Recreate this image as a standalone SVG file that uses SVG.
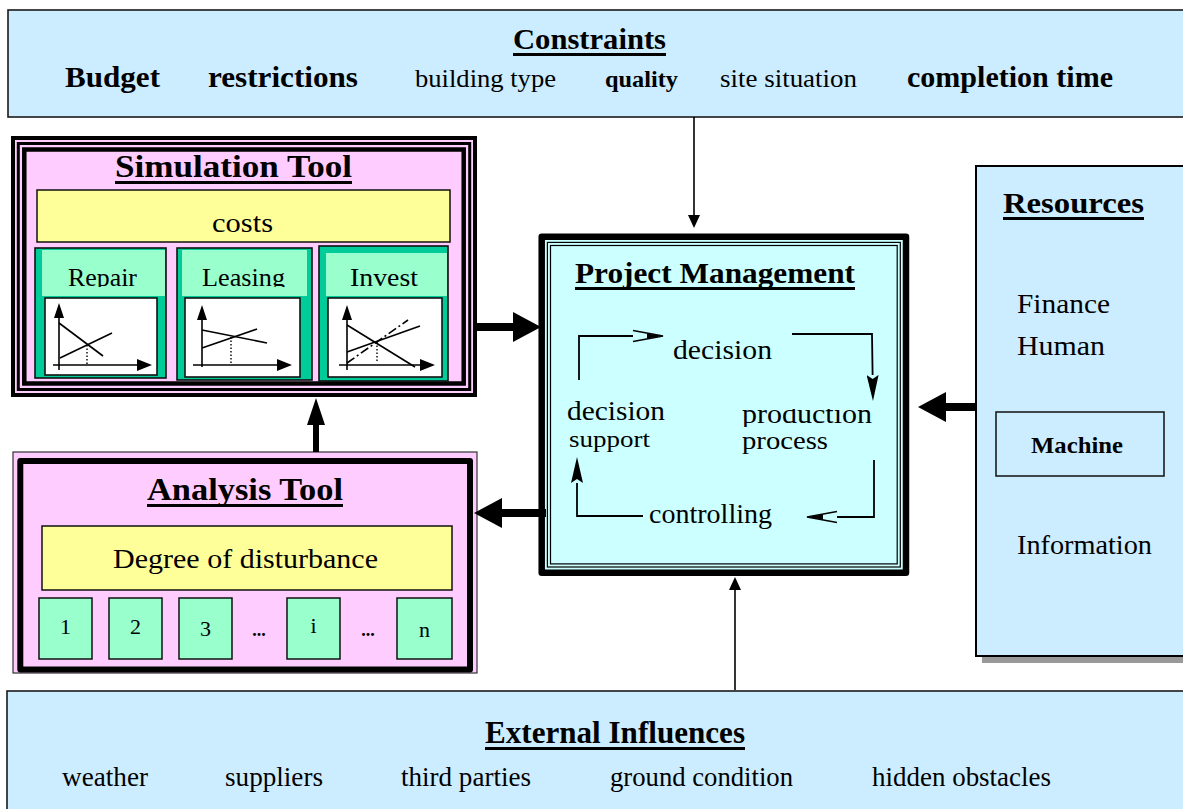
<svg xmlns="http://www.w3.org/2000/svg" width="1183" height="809" viewBox="0 0 1183 809">
  <style>
    text { font-family: "Liberation Serif", "Times New Roman", serif; fill: #000; }
    .b { font-weight: bold; }
    .blue { fill: #CCECFF; stroke: #1a1a1a; stroke-width: 1.6; }
    .pink { fill: #FFCCFF; }
    .yellow { fill: #FFFF99; stroke: #111; stroke-width: 1.5; }
    .mint { fill: #99FFCC; stroke: #111; stroke-width: 1.5; }
    .panel { fill: #00CC99; stroke: #111; stroke-width: 1.6; }
    .band { fill: #99FFCC; }
    .chart { fill: #fff; stroke: #111; stroke-width: 1.6; }
    .plot { stroke: #000; stroke-width: 1.6; fill: none; }
    .dot { stroke: #000; stroke-width: 1.4; stroke-dasharray: 1.5 2; fill: none; }
    .ul { fill: #000; }
    .thick { stroke: #000; fill: none; stroke-linecap: butt; }
    .thin { stroke: #000; stroke-width: 1.6; fill: none; }
    .cyc { stroke: #000; stroke-width: 1.8; fill: none; }
  </style>
  <defs>
    <marker id="bigHead" viewBox="0 0 28 30" refX="0" refY="15" markerWidth="28" markerHeight="30" markerUnits="userSpaceOnUse" orient="auto">
      <path d="M0,0 L28,15 L0,30 Z" fill="#000"/>
    </marker>
    <marker id="midHead" viewBox="0 0 27 18" refX="0" refY="9" markerWidth="27" markerHeight="18" markerUnits="userSpaceOnUse" orient="auto">
      <path d="M0,0 L27,9 L0,18 Z" fill="#000"/>
    </marker>
    <marker id="thinHead" viewBox="0 0 13 12" refX="0" refY="6" markerWidth="13" markerHeight="12" markerUnits="userSpaceOnUse" orient="auto">
      <path d="M0,0 L13,6 L0,12 Z" fill="#000"/>
    </marker>
    <marker id="stealth" viewBox="0 0 26 12" refX="0" refY="6" markerWidth="26" markerHeight="12" markerUnits="userSpaceOnUse" orient="auto">
      <path d="M0,0 L26,6 L0,12 L4,6 Z" fill="#000"/>
    </marker>
    <marker id="chevron" viewBox="-1 -1 32 14" refX="0" refY="6" markerWidth="32" markerHeight="14" markerUnits="userSpaceOnUse" orient="auto">
      <path d="M0,0.5 L30,6 L0,11.5" fill="none" stroke="#000" stroke-width="1.6"/>
      <path d="M14,3.4 L30,6 L14,8.6 Z" fill="#000"/>
    </marker>
    <clipPath id="labelClip"><rect x="30" y="240" width="430" height="47"/></clipPath>
    <clipPath id="prodClip"><rect x="730" y="409" width="160" height="18"/></clipPath>
  </defs>

  <!-- Constraints banner -->
  <g id="constraints">
    <rect class="blue" x="8" y="10" width="1190" height="107"/>
    <text class="b" x="513" y="49" font-size="30" textLength="153" lengthAdjust="spacingAndGlyphs">Constraints</text>
    <rect class="ul" x="513" y="53" width="153" height="3"/>
    <text class="b" x="65" y="87" font-size="30" textLength="95" lengthAdjust="spacingAndGlyphs">Budget</text>
    <text class="b" x="208" y="87" font-size="30" textLength="150" lengthAdjust="spacingAndGlyphs">restrictions</text>
    <text x="415" y="87" font-size="25" textLength="141" lengthAdjust="spacingAndGlyphs">building type</text>
    <text class="b" x="605" y="87" font-size="23" textLength="73" lengthAdjust="spacingAndGlyphs">quality</text>
    <text x="720" y="87" font-size="25" textLength="137" lengthAdjust="spacingAndGlyphs">site situation</text>
    <text class="b" x="907" y="87" font-size="30" textLength="206" lengthAdjust="spacingAndGlyphs">completion time</text>
  </g>

  <!-- Simulation Tool -->
  <g id="simulation-tool">
    <rect class="pink" x="13" y="138" width="462" height="257" stroke="#000" stroke-width="4"/>
    <rect x="18.3" y="143.5" width="451.4" height="246" fill="none" stroke="#000" stroke-width="3"/>
    <rect x="24.3" y="149.5" width="439.4" height="234" fill="none" stroke="#000" stroke-width="4.5"/>
    <text class="b" x="115" y="177" font-size="32" textLength="237" lengthAdjust="spacingAndGlyphs">Simulation Tool</text>
    <rect class="ul" x="115" y="181" width="237" height="3"/>
    <rect class="yellow" x="37" y="190" width="413" height="52"/>
    <text x="212" y="232" font-size="28" textLength="61" lengthAdjust="spacingAndGlyphs">costs</text>

    <!-- Repair panel -->
    <g id="panel-repair">
      <rect class="panel" x="35" y="248" width="131" height="130"/>
      <rect class="band" x="42" y="250" width="123" height="46"/>
      <text clip-path="url(#labelClip)" x="68" y="286" font-size="26" textLength="69" lengthAdjust="spacingAndGlyphs">Repair</text>
      <rect class="chart" x="45" y="298" width="112" height="77"/>
      <line class="plot" x1="59" y1="370" x2="59" y2="318"/>
      <path d="M54,318 L59,303 L64,318 Z"/>
      <line class="plot" x1="53" y1="365" x2="137" y2="365"/>
      <path d="M137,359 L152,365 L137,371 Z"/>
      <line class="plot" x1="59" y1="323" x2="103" y2="356"/>
      <line class="plot" x1="60" y1="358" x2="112" y2="333"/>
      <line class="dot" x1="87" y1="345" x2="87" y2="365"/>
    </g>

    <!-- Leasing panel -->
    <g id="panel-leasing">
      <rect class="panel" x="177" y="248" width="135" height="132"/>
      <rect class="band" x="182" y="250" width="125" height="46"/>
      <text clip-path="url(#labelClip)" x="202" y="286" font-size="26" textLength="83" lengthAdjust="spacingAndGlyphs">Leasing</text>
      <rect class="chart" x="185" y="298" width="115" height="79"/>
      <line class="plot" x1="202" y1="367" x2="202" y2="320"/>
      <path d="M197,320 L202,305 L207,320 Z"/>
      <line class="plot" x1="193" y1="365" x2="277" y2="365"/>
      <path d="M277,359 L292,365 L277,371 Z"/>
      <line class="plot" x1="202" y1="330" x2="267" y2="343"/>
      <line class="plot" x1="202" y1="348" x2="257" y2="329"/>
      <line class="dot" x1="231" y1="337" x2="231" y2="365"/>
    </g>

    <!-- Invest panel -->
    <g id="panel-invest">
      <rect class="panel" x="319" y="246" width="129" height="135"/>
      <rect class="band" x="326" y="253" width="121" height="43"/>
      <text clip-path="url(#labelClip)" x="350" y="286" font-size="26" textLength="68" lengthAdjust="spacingAndGlyphs">Invest</text>
      <rect class="chart" x="328" y="298" width="114" height="79"/>
      <line class="plot" x1="347" y1="370" x2="347" y2="320"/>
      <path d="M342,320 L347,305 L352,320 Z"/>
      <line class="plot" x1="339" y1="365" x2="420" y2="365"/>
      <path d="M420,359 L435,365 L420,371 Z"/>
      <line class="plot" x1="347" y1="325" x2="415" y2="367"/>
      <line class="plot" x1="347" y1="352" x2="420" y2="326"/>
      <line class="plot" x1="347" y1="363" x2="408" y2="320" stroke-dasharray="9 3 2 3"/>
      <line class="dot" x1="377" y1="342" x2="377" y2="363"/>
    </g>
  </g>

  <!-- Analysis Tool -->
  <g id="analysis-tool">
    <rect class="pink" x="13" y="452" width="464" height="221" stroke="#333" stroke-width="1.2"/>
    <rect x="20.3" y="461" width="449.7" height="208.5" fill="none" stroke="#000" stroke-width="6" stroke-linejoin="round"/>
    <text class="b" x="147" y="500" font-size="32" textLength="196" lengthAdjust="spacingAndGlyphs">Analysis Tool</text>
    <rect class="ul" x="147" y="504" width="196" height="3"/>
    <rect class="yellow" x="42" y="526" width="410" height="64"/>
    <text x="113" y="568" font-size="28" textLength="265" lengthAdjust="spacingAndGlyphs">Degree of disturbance</text>
    <g id="factors" font-size="22" text-anchor="middle">
      <rect class="mint" x="39" y="598" width="53" height="61"/>
      <text x="65.5" y="634">1</text>
      <rect class="mint" x="109" y="598" width="53" height="61"/>
      <text x="135.5" y="634">2</text>
      <rect class="mint" x="179" y="598" width="53" height="61"/>
      <text x="205.5" y="636">3</text>
      <text class="b" x="259" y="636" font-size="18">...</text>
      <rect class="mint" x="287" y="598" width="53" height="61"/>
      <text x="313.5" y="633">i</text>
      <text class="b" x="368" y="636" font-size="18">...</text>
      <rect class="mint" x="397" y="598" width="55" height="61"/>
      <text x="424.5" y="637">n</text>
    </g>
  </g>

  <!-- Project Management -->
  <g id="project-management">
    <rect x="541.7" y="236.7" width="364.3" height="336" fill="#CCFFFF" stroke="#000" stroke-width="6.5" stroke-linejoin="round"/>
    <rect x="547.4" y="242.4" width="352.9" height="324.6" fill="none" stroke="#000" stroke-width="1.2"/>
    <rect x="550.5" y="245.5" width="346.7" height="318.4" fill="none" stroke="#000" stroke-width="1.2"/>
    <text class="b" x="575" y="283" font-size="30" textLength="280" lengthAdjust="spacingAndGlyphs">Project Management</text>
    <rect class="ul" x="575" y="287" width="280" height="3"/>
    <text x="673" y="359" font-size="28" textLength="99" lengthAdjust="spacingAndGlyphs">decision</text>
    <text x="567" y="420" font-size="28" textLength="98" lengthAdjust="spacingAndGlyphs">decision</text>
    <text x="569" y="447" font-size="24" textLength="81" lengthAdjust="spacingAndGlyphs">support</text>
    <text clip-path="url(#prodClip)" x="742" y="423" font-size="28" textLength="130" lengthAdjust="spacingAndGlyphs">production</text>
    <text x="742" y="449" font-size="25" textLength="86" lengthAdjust="spacingAndGlyphs">process</text>
    <text x="649" y="523" font-size="28" textLength="123" lengthAdjust="spacingAndGlyphs">controlling</text>
    <g id="cycle">
      <path class="cyc" d="M579,380 V336 H633" marker-end="url(#chevron)"/>
      <path class="cyc" d="M792,334 H872 L872.6,375" marker-end="url(#stealth)"/>
      <path class="cyc" d="M874,460 V517 H837" marker-end="url(#chevron)"/>
      <path class="cyc" d="M643,516 H577 V483" marker-end="url(#stealth)"/>
    </g>
  </g>

  <!-- Resources -->
  <g id="resources">
    <rect x="982" y="173" width="215" height="490" fill="#999"/>
    <rect x="976" y="166" width="215" height="490" fill="#CCECFF" stroke="#000" stroke-width="2"/>
    <text class="b" x="1003" y="213" font-size="30" textLength="141" lengthAdjust="spacingAndGlyphs">Resources</text>
    <rect class="ul" x="1003" y="217" width="141" height="3"/>
    <text x="1017" y="313" font-size="28" textLength="93" lengthAdjust="spacingAndGlyphs">Finance</text>
    <text x="1017" y="355" font-size="28" textLength="88" lengthAdjust="spacingAndGlyphs">Human</text>
    <g id="machine">
      <rect x="996" y="412" width="168" height="64" fill="none" stroke="#111" stroke-width="1.5"/>
      <text class="b" x="1031" y="453" font-size="23" textLength="92" lengthAdjust="spacingAndGlyphs">Machine</text>
    </g>
    <text x="1017" y="554" font-size="28" textLength="135" lengthAdjust="spacingAndGlyphs">Information</text>
  </g>

  <!-- External Influences -->
  <g id="external-influences">
    <rect class="blue" x="7" y="691" width="1190" height="130"/>
    <text class="b" x="485" y="743" font-size="31" textLength="260" lengthAdjust="spacingAndGlyphs">External Influences</text>
    <rect class="ul" x="485" y="747" width="260" height="3"/>
    <text x="62" y="786" font-size="28" textLength="86" lengthAdjust="spacingAndGlyphs">weather</text>
    <text x="225" y="786" font-size="28" textLength="98" lengthAdjust="spacingAndGlyphs">suppliers</text>
    <text x="401" y="786" font-size="28" textLength="130" lengthAdjust="spacingAndGlyphs">third parties</text>
    <text x="610" y="786" font-size="28" textLength="183" lengthAdjust="spacingAndGlyphs">ground condition</text>
    <text x="872" y="786" font-size="28" textLength="179" lengthAdjust="spacingAndGlyphs">hidden obstacles</text>
  </g>

  <!-- Connectors between the blocks -->
  <g id="connectors">
    <line class="thin" x1="694" y1="117" x2="694" y2="215" marker-end="url(#thinHead)"/>
    <line class="thin" x1="735" y1="690" x2="735" y2="590" marker-end="url(#thinHead)"/>
    <line class="thick" stroke-width="8" x1="477" y1="327" x2="513" y2="327" marker-end="url(#bigHead)"/>
    <line class="thick" stroke-width="8" x1="546" y1="513" x2="502" y2="513" marker-end="url(#bigHead)"/>
    <line class="thick" stroke-width="8" x1="976" y1="407" x2="946" y2="407" marker-end="url(#bigHead)"/>
    <line class="thick" stroke-width="6" x1="316" y1="452" x2="316" y2="425" marker-end="url(#midHead)"/>
  </g>
</svg>
